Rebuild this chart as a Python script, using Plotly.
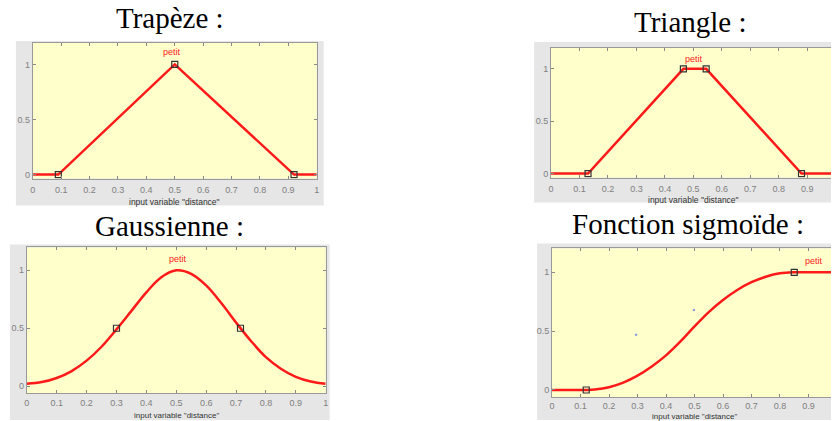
import plotly.graph_objects as go

# membership functions
trap_x = [0, 0.09, 0.5, 0.92, 1]
trap_y = [0, 0, 1, 0, 0]
trap_px = [0.09, 0.5, 0.92]
trap_py = [0, 1, 0]

tri_x = [0, 0.13, 0.465, 0.545, 0.88, 1]
tri_y = [0, 0, 1, 1, 0, 0]
tri_px = [0.13, 0.465, 0.545, 0.88]
tri_py = [0, 1, 1, 0]

gauss_x = [0, 0.05, 0.1, 0.15, 0.2, 0.25, 0.3, 0.35, 0.4, 0.45, 0.5,
           0.55, 0.6, 0.65, 0.7, 0.75, 0.8, 0.85, 0.9, 0.95, 1]
gauss_y = [0.02, 0.035, 0.07, 0.13, 0.22, 0.34, 0.49, 0.65, 0.81, 0.94, 1.0,
           0.97, 0.87, 0.72, 0.55, 0.39, 0.25, 0.15, 0.08, 0.04, 0.02]
gauss_px = [0.30, 0.715]
gauss_py = [0.5, 0.5]

sig_x = [0, 0.05, 0.1, 0.12, 0.15, 0.2, 0.25, 0.3, 0.35, 0.4, 0.45, 0.5,
         0.55, 0.6, 0.65, 0.7, 0.75, 0.8, 0.85, 0.9, 0.95, 1]
sig_y = [0, 0, 0, 0, 0.004, 0.024, 0.063, 0.122, 0.2, 0.294, 0.41, 0.54,
         0.662, 0.765, 0.85, 0.916, 0.962, 0.991, 1, 1, 1, 1]
sig_px = [0.12, 0.85]
sig_py = [0, 1]
stray_x = [0.295, 0.498]
stray_y = [0.47, 0.68]

titles = ["Trapèze :", "Triangle :", "Gaussienne :", "Fonction sigmoïde :"]
mf_name = "petit"
xlabel = 'input variable "distance"'
label_pos = [(0.49, 1.11), (0.502, 1.095), (0.507, 1.095), (0.92, 1.096)]

W, H = 834, 421

def px(v):
    return v / W

def py(v):
    return 1 - v / H

# panel geometry in pixels: gray box, plot box, x range, y range, title centre
panels = [
    dict(gray=(13, 41, 323, 206), plot=(30, 43, 316, 179), xr=[0, 1], yr=[-0.036, 1.195], title=(168, 18), xl=202, xs=8.5, so=3, cut=False),
    dict(gray=(535, 42, 834, 203), plot=(552, 48, 834, 178), xr=[0, 0.9836], yr=[-0.038, 1.2], title=(692, 22), xl=200, xs=8.5, so=3, cut=True),
    dict(gray=(7, 245, 329, 421), plot=(24, 248, 325, 394), xr=[0, 1], yr=[-0.06, 1.198], title=(168, 227), xl=416.5, xs=8, so=1, cut=False),
    dict(gray=(538, 244, 834, 421), plot=(553, 249, 834, 398), xr=[0, 0.979], yr=[-0.06, 1.203], title=(690, 225), xl=417, xs=8, so=0, cut=True),
]

curves = [
    (trap_x, trap_y, trap_px, trap_py, "linear"),
    (tri_x, tri_y, tri_px, tri_py, "linear"),
    (gauss_x, gauss_y, gauss_px, gauss_py, "spline"),
    (sig_x, sig_y, sig_px, sig_py, "spline"),
]

fig = go.Figure()
shapes = []
annotations = []
layout = {}

for i, (p, c) in enumerate(zip(panels, curves)):
    n = "" if i == 0 else str(i + 1)
    xa, ya = "x" + n, "y" + n
    gx0, gy0, gx1, gy1 = p["gray"]
    shapes.append(dict(type="rect", xref="paper", yref="paper", layer="below",
                       x0=px(gx0), x1=px(gx1), y0=py(gy1), y1=py(gy0),
                       fillcolor="#e6e6e6", line=dict(width=0)))
    x0, y0, x1, y1 = p["plot"]
    shapes.append(dict(type="rect", xref="paper", yref="paper", layer="below",
                       x0=px(x0), x1=px(x1), y0=py(y1), y1=py(y0),
                       fillcolor="#ffffcc", line=dict(width=0)))
    layout["xaxis" + n] = dict(
        domain=[px(x0), px(x1)], range=p["xr"], anchor=ya,
        tickvals=[0, 0.1, 0.2, 0.3, 0.4, 0.5, 0.6, 0.7, 0.8, 0.9, 1],
        ticktext=["0", "0.1", "0.2", "0.3", "0.4", "0.5", "0.6", "0.7", "0.8", "0.9", "1"],
        ticks="inside", ticklen=3, tickcolor="#888", showline=True, linecolor="#999",
        mirror="ticks", showgrid=False, zeroline=False, ticklabelstandoff=p["so"],
        tickfont=dict(family="Liberation Sans", size=9, color="#808080"))
    layout["yaxis" + n] = dict(
        domain=[py(y1), py(y0)], range=p["yr"], anchor=xa,
        tickvals=[0, 0.5, 1], ticktext=["0", "0.5", "1"],
        ticks="inside", ticklen=3, tickcolor="#888", showline=True, linecolor="#999",
        mirror=False if p["cut"] else "ticks", showgrid=False, zeroline=False,
        tickfont=dict(family="Liberation Sans", size=9, color="#808080"))

    cx, cy, mx, my, shape = c
    fig.add_trace(go.Scatter(x=cx, y=cy, mode="lines", xaxis=xa, yaxis=ya,
                             line=dict(color="#ff1a1a", width=2.5, shape=shape),
                             hoverinfo="skip"))
    fig.add_trace(go.Scatter(x=mx, y=my, mode="markers", xaxis=xa, yaxis=ya,
                             marker=dict(symbol="square-open", size=6,
                                         color="#333", line=dict(width=1.2))))
    lx, ly = label_pos[i]
    annotations.append(dict(x=lx, y=ly, xref=xa, yref=ya, text=mf_name, showarrow=False,
                            font=dict(family="Liberation Sans", size=9, color="#ff2020")))
    tx, ty = p["title"]
    annotations.append(dict(x=px(tx), y=py(ty), xref="paper", yref="paper", text=titles[i],
                            showarrow=False, xanchor="center", yanchor="middle",
                            font=dict(family="Liberation Serif", size=29, color="black")))
    mid = (x0 + x0 + 287) / 2 if p["cut"] else (x0 + x1) / 2
    annotations.append(dict(x=px(mid), y=py(p["xl"]), xref="paper", yref="paper", text=xlabel,
                            showarrow=False, xanchor="center", yanchor="middle",
                            font=dict(family="Liberation Sans", size=p["xs"], color="#333")))

fig.add_trace(go.Scatter(x=stray_x, y=stray_y, mode="markers", xaxis="x4", yaxis="y4",
                         marker=dict(size=2.5, color="#8fa0e0")))

fig.update_layout(width=W, height=H, margin=dict(l=0, r=0, t=0, b=0),
                  paper_bgcolor="white", plot_bgcolor="rgba(0,0,0,0)",
                  showlegend=False, shapes=shapes, annotations=annotations, **layout)

# the page body has a default 8px margin; drop it so the figure sits at the window corner
fig.write_html("out.html", config={"displayModeBar": False},
               post_script="document.body.style.margin='0';")
